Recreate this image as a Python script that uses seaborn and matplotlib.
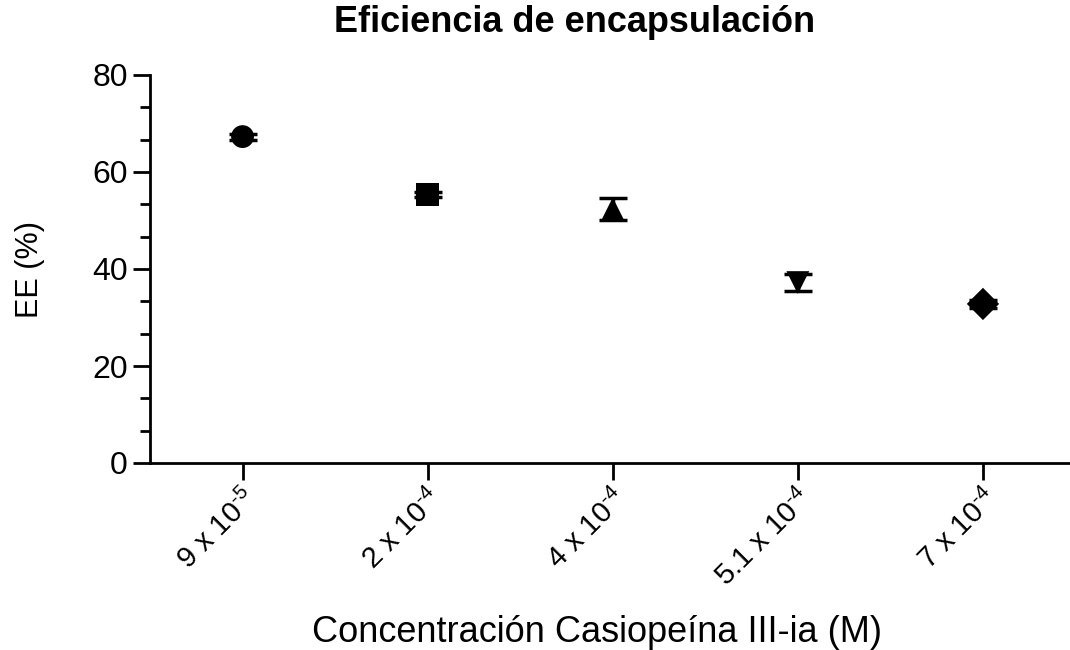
import matplotlib
matplotlib.use("Agg")
import matplotlib.pyplot as plt
import seaborn as sns
import pandas as pd
from matplotlib.ticker import MultipleLocator, AutoMinorLocator

categories = ["9 x 10$^{\\text{-5}}$", "2 x 10$^{\\text{-4}}$", "4 x 10$^{\\text{-4}}$",
              "5.1 x 10$^{\\text{-4}}$", "7 x 10$^{\\text{-4}}$"]
ee_mean = [67.3, 55.4, 52.4, 37.2, 32.8]
ee_sd = [0.6, 0.5, 2.3, 1.8, 0.8]
markers = ["o", "s", "^", "v", "D"]

sns.set_style("ticks")
plt.rcParams["font.family"] = ["Liberation Sans", "DejaVu Sans"]
plt.rcParams["mathtext.fontset"] = "custom"
plt.rcParams["mathtext.rm"] = "Liberation Sans"
plt.rcParams["mathtext.it"] = "Liberation Sans"
plt.rcParams["text.color"] = "black"
plt.rcParams["axes.labelcolor"] = "black"
plt.rcParams["xtick.color"] = "black"
plt.rcParams["ytick.color"] = "black"
plt.rcParams["axes.edgecolor"] = "black"

df = pd.DataFrame({"x": range(len(categories)), "cat": categories, "ee": ee_mean, "sd": ee_sd})

fig = plt.figure(figsize=(10.7, 6.5), dpi=100)
ax = fig.add_axes([150/1070, (650-463)/650, (1070-150)/1070, 388/650])

sns.scatterplot(data=df, x="x", y="ee", style="cat", markers=dict(zip(categories, markers)),
                color="black", s=270, edgecolor="black", linewidth=0, legend=False, ax=ax, zorder=3)
ax.errorbar(df["x"], df["ee"], yerr=df["sd"], fmt="none", ecolor="black",
            elinewidth=2.5, capsize=10, capthick=2.5, zorder=4)

ax.set_xlim(-0.5, (1070 - 243) / 185)
ax.set_ylim(0, 80)
ax.yaxis.set_major_locator(MultipleLocator(20))
ax.yaxis.set_minor_locator(AutoMinorLocator(3))
ax.set_xticks(df["x"])
ax.set_xticklabels(categories, rotation=45, ha="right", rotation_mode="anchor", fontsize=21)
ax.tick_params(axis="y", which="major", length=12, width=2, labelsize=23, pad=4)
ax.tick_params(axis="y", which="minor", length=7, width=2)
ax.tick_params(axis="x", which="major", length=12, width=2, pad=3)
sns.despine(ax=ax)
for sp in ["left", "bottom"]:
    ax.spines[sp].set_linewidth(2)

ax.set_xlabel("Concentración Casiopeína III-ia (M)", fontsize=26, va="center")
ax.xaxis.set_label_coords((597 - 150) / 920, (463 - 633) / 388)
ax.set_ylabel("EE (%)", fontsize=22, va="center")
ax.yaxis.set_label_coords((30 - 150) / 920, (463 - 270) / 388)
fig.text(575/1070, 1 - 22/650, "Eficiencia de encapsulación", fontsize=26, fontweight="bold",
         ha="center", va="center")

fig.savefig("out.png", dpi=100)
